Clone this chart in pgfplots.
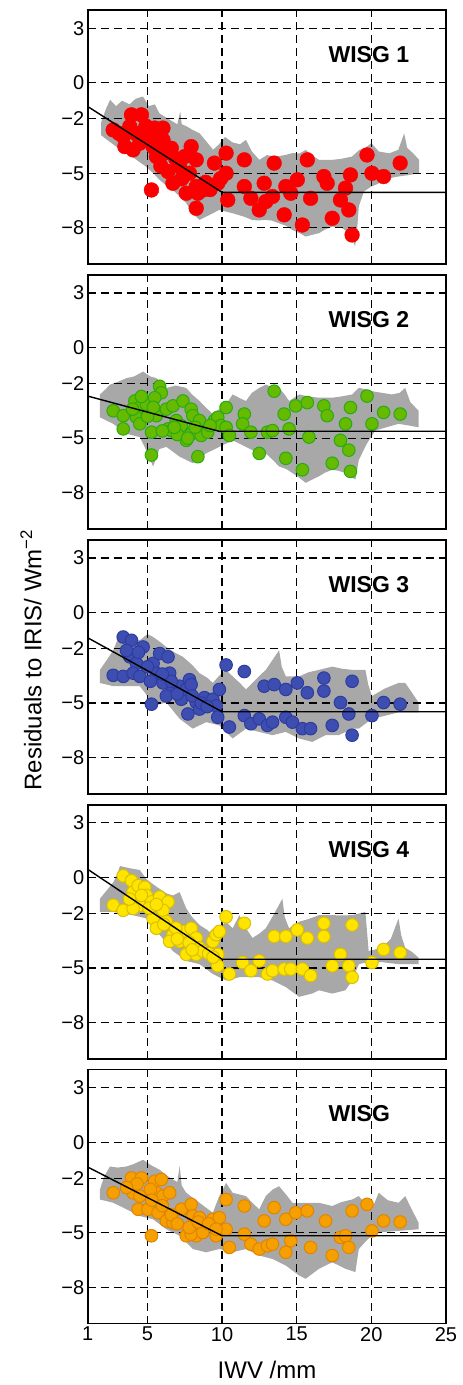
\documentclass[border=0pt]{standalone}
\usepackage{fontspec}
\setmainfont{Liberation Sans}
\usepackage{pgfplots}
\pgfplotsset{compat=1.18}
\definecolor{cloud}{RGB}{168,168,168}
\definecolor{rfill}{RGB}{250,0,0}
\definecolor{gfill}{RGB}{102,187,0}
\definecolor{gedge}{RGB}{40,170,20}
\definecolor{bfill}{RGB}{62,78,176}
\definecolor{bedge}{RGB}{45,60,160}
\definecolor{yfill}{RGB}{255,228,0}
\definecolor{yedge}{RGB}{218,192,0}
\definecolor{ofill}{RGB}{245,160,0}
\definecolor{oedge}{RGB}{225,132,0}
\tikzset{ttl/.style={anchor=west, font=\bfseries\fontsize{23}{27}\selectfont}}
\pgfplotsset{
  panel/.style={
    set layers,
    scale only axis, width=358.3pt, height=254pt,
    xmin=1, xmax=25, ymin=-10, ymax=4,
    xtick={1,5,10,15,20,25}, ytick={-8,-5,-2,0,3},
    yticklabels={−8,−5,−2,0,3},
    xticklabels={},
    major tick length=0pt,
    grid=major,
    major grid style={black, line width=1.2pt, dash pattern=on 8pt off 5pt},
    axis line style={line width=1.8pt},
    tick label style={font=\fontsize{20}{24}\selectfont},
    anchor=south west,
  },
  cloudstyle/.style={fill=cloud, draw=none, on layer=axis background},
  fitline/.style={black, line width=1.4pt, no marks, on layer=axis foreground},
}
\begin{document}
\begin{tikzpicture}
\path (0pt,0pt) rectangle (463pt,1385pt);

% ---------------- WISG 1
\begin{axis}[panel, at={(87.7pt,1121pt)}]
\addplot[cloudstyle] coordinates {
(1.9,-2.2) (2.2,-1.5) (2.5,-0.95) (2.9,-1.3) (3.3,-1.0) (3.8,-1.2) (4.2,-0.9) (4.7,-0.77) (5.1,-1.3) (5.5,-1.2) (5.8,-1.7) (6.2,-1.9) (6.6,-2.1) (7.0,-2.3) (7.2,-1.6) (7.3,-2.3) (7.6,-2.4) (8.0,-2.6) (8.5,-2.8) (8.9,-3.2) (9.4,-3.7) (9.8,-3.4) (10.2,-3.0) (10.7,-3.3) (11.2,-3.4) (11.6,-3.16) (12.0,-3.8) (12.5,-4.26) (13.0,-4.0) (13.6,-4.08) (14.2,-4.0) (14.7,-3.89) (15.2,-3.9) (15.6,-3.71) (16.0,-4.0) (16.5,-4.26) (17.4,-4.26) (18.0,-4.2) (18.7,-4.08) (19.2,-3.71) (19.6,-3.6) (20.0,-3.34) (20.5,-3.8) (21.2,-3.9) (21.8,-3.71) (22.2,-2.8) (22.4,-3.6) (22.8,-3.9) (23.2,-4.26)
(23.2,-5.0) (22.5,-5.1) (21.8,-5.18) (21.0,-5.3) (20.4,-5.6) (20.0,-5.73) (19.5,-6.0) (19.16,-6.83) (19.0,-8.6) (18.9,-9.04) (18.7,-8.4) (18.5,-8.3) (18.0,-8.0) (17.4,-7.94) (16.9,-8.1) (16.5,-8.3) (16.0,-8.4) (15.6,-8.49) (15.2,-8.3) (14.7,-8.12) (14.3,-7.9) (13.8,-7.75) (13.3,-7.6) (12.9,-7.57) (12.4,-7.6) (12.0,-7.57) (11.5,-7.4) (11.1,-7.3) (10.7,-7.2) (10.2,-7.1) (9.8,-7.02) (9.4,-7.2) (8.9,-7.4) (8.5,-7.57) (8.0,-7.2) (7.6,-6.65) (7.2,-6.3) (6.7,-5.92) (6.3,-5.7) (5.8,-5.36) (5.4,-5.0) (4.9,-4.63) (4.5,-4.4) (4.0,-4.1) (3.6,-3.9) (3.2,-3.71) (2.7,-3.4) (2.3,-3.16) (1.9,-2.9)
};
\addplot[only marks, mark=*, mark size=7.4pt, mark options={fill=rfill, draw=rfill}] coordinates {
(2.71,-2.61) (3.38,-2.97) (3.93,-1.78) (4.6,-1.78) (3.49,-3.53) (4.04,-3.71) (4.49,-3.34) (3.82,-2.42) (5.49,-2.51) (6.04,-2.51) (5.71,-2.97) (5.38,-3.53) (6.04,-3.16) (5.6,-4.08) (6.6,-3.62) (6.16,-3.89) (5.27,-5.92) (6.38,-4.90) (6.71,-5.55) (7.16,-4.63) (7.49,-4.08) (7.93,-3.53) (8.27,-4.26) (7.82,-5.0) (7.6,-6.10) (8.27,-5.73) (8.38,-6.10) (8.71,-5.92) (8.27,-6.93) (9.49,-4.44) (9.71,-5.55) (10.27,-5.0) (10.27,-3.89) (10.38,-6.47) (11.49,-4.26) (11.49,-5.73) (11.93,-6.38) (12.49,-7.02) (12.82,-5.55) (12.93,-6.56) (13.38,-6.28) (13.49,-4.44) (14.16,-7.29) (14.27,-5.73) (14.6,-6.10) (15.04,-5.36) (15.38,-7.85) (15.71,-4.26) (15.93,-6.38) (16.82,-5.18) (17.04,-5.55) (17.38,-7.48) (17.93,-6.47) (18.27,-5.82) (18.49,-7.02) (18.6,-5.09) (18.71,-8.40) (19.71,-3.99) (20.04,-5.0) (20.82,-5.18) (21.93,-4.44)
(4.2,-2.8) (5.0,-3.0) (6.9,-4.2) (7.3,-5.3) (8.9,-5.5) (9.2,-5.9) (9.9,-5.3) (4.9,-2.4) (3.1,-2.8) (5.9,-4.6)
};
\addplot[fitline] coordinates {(1,-1.32) (10,-6.05) (25,-6.05)};
\node[ttl] at (axis cs:16.9,1.55) {WISG 1};
\end{axis}

% ---------------- WISG 2
\begin{axis}[panel, at={(87.7pt,856.1pt)}]
\addplot[cloudstyle] coordinates {
(1.82,-2.59) (2.2,-2.3) (2.49,-2.05) (3.0,-1.9) (3.6,-1.69) (4.1,-1.6) (4.71,-1.33) (5.2,-1.6) (5.6,-1.69) (6.0,-2.0) (6.27,-2.23) (6.9,-2.1) (7.6,-2.23) (8.0,-2.6) (8.49,-2.95) (8.9,-3.3) (9.38,-3.67) (9.8,-3.4) (10.27,-3.13) (10.71,-2.59) (11.2,-2.8) (11.6,-2.95) (12.0,-2.5) (12.49,-2.23) (12.93,-2.05) (13.4,-2.2) (13.82,-2.23) (14.2,-2.6) (14.49,-2.95) (15.16,-2.59) (15.8,-2.7) (16.49,-2.77) (17.38,-2.77) (18.0,-2.7) (18.71,-2.59) (19.16,-2.23) (19.6,-2.3) (20.04,-2.41) (20.7,-2.5) (21.38,-2.59) (21.9,-2.5) (22.27,-2.23) (22.6,-3.0) (23.16,-3.49)
(23.16,-4.40) (22.5,-4.3) (21.82,-4.21) (21.0,-4.4) (20.27,-4.58) (19.7,-5.3) (19.16,-6.2) (18.93,-7.28) (18.27,-6.92) (17.8,-6.8) (17.38,-6.74) (16.9,-6.9) (16.49,-7.1) (16.0,-7.3) (15.6,-7.46) (15.2,-7.2) (14.71,-6.92) (14.3,-6.7) (13.82,-6.56) (13.4,-6.2) (12.93,-5.84) (12.04,-5.66) (11.4,-5.4) (10.71,-5.12) (9.82,-5.48) (8.93,-5.84) (8.04,-6.38) (7.16,-6.02) (6.27,-5.48) (5.8,-5.6) (5.38,-6.56) (5.0,-5.8) (4.49,-4.94) (3.6,-4.76) (2.71,-4.21) (1.82,-3.85)
};
\addplot[only marks, mark=*, mark size=6.3pt, mark options={fill=gfill, draw=gedge, line width=1pt}] coordinates {
(2.71,-3.49) (3.38,-3.76) (3.38,-4.49) (4.16,-2.95) (4.49,-3.31) (4.27,-3.85) (4.93,-3.13) (4.49,-4.21) (5.27,-4.67) (5.27,-5.93) (5.82,-2.14) (5.93,-2.50) (5.49,-2.77) (5.6,-3.76) (6.27,-3.40) (6.38,-4.49) (6.71,-3.22) (6.6,-4.58) (6.93,-4.03) (7.38,-2.95) (7.27,-4.31) (7.6,-5.12) (7.93,-3.40) (8.04,-3.76) (7.93,-4.76) (8.49,-4.03) (8.38,-6.02) (8.6,-4.85) (9.04,-4.67) (9.49,-4.03) (9.71,-3.85) (9.93,-4.31) (10.27,-3.31) (10.27,-4.40) (10.49,-4.85) (11.49,-3.67) (11.38,-4.21) (11.93,-4.67) (12.49,-5.84) (13.04,-4.67) (13.38,-4.58) (13.49,-2.41) (14.16,-3.67) (14.27,-6.11) (14.49,-4.49) (14.93,-3.22) (15.38,-6.74) (15.71,-3.04) (15.82,-4.94) (16.82,-3.22) (17.04,-3.76) (17.38,-6.38) (17.93,-5.12) (18.27,-4.21) (18.49,-5.66) (18.6,-3.31) (18.6,-6.83) (19.71,-2.68) (20.04,-4.21) (20.82,-3.58) (21.93,-3.67)
(4.0,-3.4) (5.0,-3.8) (6.0,-4.6) (7.0,-4.8) (8.2,-4.4) (9.2,-4.3) (4.6,-2.7) (5.4,-3.3) (6.8,-4.4) (7.7,-5.0)
};
\addplot[fitline] coordinates {(1,-2.68) (9.8,-4.62) (25,-4.62)};
\node[ttl] at (axis cs:16.9,1.55) {WISG 2};
\end{axis}

% ---------------- WISG 3
\begin{axis}[panel, at={(87.7pt,591.2pt)}]
\addplot[cloudstyle] coordinates {
(1.82,-3.17) (2.3,-2.6) (2.71,-2.09) (3.0,-1.5) (3.16,-1.0) (3.8,-1.3) (4.49,-1.54) (5.0,-1.2) (5.38,-1.36) (5.8,-1.6) (6.27,-1.91) (6.8,-2.2) (7.38,-2.45) (8.0,-2.9) (8.49,-3.35) (9.0,-3.6) (9.38,-3.89) (9.8,-3.5) (10.27,-3.17) (10.71,-3.53) (11.2,-3.9) (11.6,-4.25) (12.04,-3.89) (12.5,-3.5) (12.93,-3.17) (13.4,-2.6) (13.82,-2.09) (14.0,-3.0) (14.27,-3.53) (15.16,-3.53) (15.8,-3.3) (16.49,-3.17) (17.38,-2.99) (18.0,-3.1) (18.71,-3.17) (19.6,-3.17) (19.8,-4.0) (20.04,-4.61) (20.9,-4.2) (21.82,-3.89) (22.27,-3.89) (22.7,-4.4) (23.16,-4.97)
(23.16,-5.51) (21.82,-5.51) (20.9,-5.7) (20.04,-5.87) (19.16,-6.41) (18.71,-6.41) (17.82,-6.77) (16.93,-6.77) (16.04,-7.14) (15.16,-6.95) (14.27,-6.59) (13.38,-6.77) (12.49,-6.59) (11.6,-6.41) (10.71,-6.95) (9.82,-6.23) (8.93,-6.05) (8.04,-6.41) (7.16,-5.87) (6.7,-5.4) (6.27,-4.97) (5.38,-5.15) (4.9,-4.5) (4.49,-4.07) (3.6,-4.07) (2.71,-4.07) (1.82,-3.89)
};
\addplot[only marks, mark=*, mark size=6.3pt, mark options={fill=bfill, draw=bedge, line width=1pt}] coordinates {
(2.71,-3.47) (3.38,-3.53) (3.38,-1.36) (3.93,-1.54) (3.82,-2.45) (4.27,-2.81) (4.04,-3.35) (4.71,-1.91) (4.49,-3.53) (5.27,-5.06) (5.38,-2.81) (5.82,-2.27) (6.38,-2.45) (5.6,-3.35) (6.04,-3.89) (6.49,-3.35) (6.71,-4.25) (6.27,-4.61) (7.16,-4.07) (7.27,-4.79) (7.6,-4.25) (7.82,-3.71) (7.93,-3.98) (7.71,-5.60) (8.27,-4.97) (8.49,-5.33) (8.82,-4.70) (9.38,-4.79) (9.6,-5.15) (9.82,-4.25) (9.71,-5.78) (10.27,-2.90) (10.49,-6.32) (11.49,-3.26) (11.49,-5.69) (11.93,-6.14) (12.49,-5.87) (12.82,-4.07) (13.04,-6.23) (13.38,-6.05) (13.49,-3.98) (14.27,-4.25) (14.27,-5.78) (14.71,-6.05) (15.04,-3.89) (15.38,-6.41) (15.71,-4.43) (15.93,-6.41) (16.82,-3.62) (16.82,-4.34) (17.38,-6.23) (17.93,-4.97) (18.49,-5.60) (18.71,-3.80) (18.71,-6.77) (20.04,-5.69) (20.82,-4.97) (21.93,-5.06)
(4.4,-2.2) (5.0,-3.0) (5.2,-3.8) (6.6,-3.8) (7.0,-4.5) (8.0,-4.6) (8.6,-5.0) (9.0,-5.2) (6.0,-3.4) (3.6,-2.1)
};
\addplot[fitline] coordinates {(1,-1.4) (10,-5.48) (25,-5.48)};
\node[ttl] at (axis cs:16.9,1.55) {WISG 3};
\end{axis}

% ---------------- WISG 4
\begin{axis}[panel, at={(87.7pt,326.3pt)}]
\addplot[cloudstyle] coordinates {
(1.82,-1.18) (2.3,-0.7) (2.71,-0.28) (3.0,0.2) (3.16,0.62) (3.8,0.5) (4.49,0.4) (4.93,-0.1) (5.4,-0.4) (5.82,-0.64) (6.3,-0.9) (6.71,-1.0) (7.16,-0.82) (7.6,-1.72) (8.0,-2.2) (8.49,-2.63) (9.0,-2.9) (9.38,-3.17) (9.8,-2.8) (10.27,-2.45) (10.71,-2.81) (11.16,-2.09) (11.6,-2.8) (12.04,-3.35) (12.5,-3.1) (12.93,-2.81) (13.5,-2.0) (14.04,-1.18) (14.2,-2.2) (14.49,-2.81) (15.16,-2.45) (15.8,-2.3) (16.49,-2.09) (17.38,-2.09) (18.0,-2.1) (18.71,-2.09) (19.6,-1.91) (19.82,-4.07) (20.71,-3.89) (21.3,-3.4) (21.82,-2.27) (22.0,-3.2) (22.27,-3.89) (22.7,-4.1) (23.16,-4.43)
(23.16,-4.79) (21.82,-4.79) (20.04,-4.61) (19.16,-4.79) (18.71,-5.69) (18.27,-6.23) (17.38,-6.41) (16.49,-6.23) (16.04,-6.41) (15.16,-6.59) (14.27,-6.05) (13.38,-5.69) (12.49,-5.51) (11.16,-5.51) (10.27,-5.69) (9.38,-5.33) (8.49,-4.79) (7.6,-4.61) (6.71,-4.07) (5.82,-3.17) (4.93,-2.27) (4.04,-2.09) (2.71,-1.91) (1.82,-1.91)
};
\addplot[only marks, mark=*, mark size=6.3pt, mark options={fill=yfill, draw=yedge, line width=1pt}] coordinates {
(2.71,-1.54) (3.38,0.08) (3.93,-0.19) (3.38,-1.82) (4.04,-0.82) (4.38,-0.46) (4.82,-0.55) (4.49,-1.54) (4.04,-1.72) (4.93,-1.0) (5.27,-1.36) (5.82,-1.09) (6.38,-1.36) (5.38,-2.27) (5.6,-2.81) (6.04,-1.82) (6.27,-2.45) (6.71,-3.17) (6.49,-3.53) (7.16,-3.53) (7.38,-2.99) (7.6,-4.25) (7.93,-2.81) (8.27,-3.35) (8.49,-3.89) (8.27,-4.25) (8.71,-4.07) (9.38,-3.53) (9.6,-3.17) (9.82,-2.99) (9.71,-4.25) (9.71,-4.88) (10.27,-2.18) (10.49,-5.33) (11.49,-2.54) (11.38,-4.70) (11.93,-5.15) (12.49,-4.61) (13.04,-5.33) (13.38,-5.15) (13.49,-3.26) (14.16,-5.06) (14.27,-3.26) (14.6,-5.06) (15.04,-2.90) (15.38,-5.06) (15.71,-3.35) (15.93,-5.42) (16.82,-2.54) (16.82,-3.26) (17.38,-4.88) (17.93,-4.25) (18.49,-4.88) (18.71,-2.63) (18.71,-5.51) (20.04,-4.70) (20.82,-3.98) (21.93,-4.16)
(4.6,-1.0) (5.1,-1.7) (5.6,-1.5) (6.1,-2.6) (6.9,-2.8) (7.0,-3.4) (7.8,-3.6) (8.0,-4.0) (9.1,-4.2) (9.4,-4.4) (3.8,-1.2)
};
\addplot[fitline] coordinates {(1,0.44) (10,-4.52) (25,-4.52)};
\node[ttl] at (axis cs:16.9,1.55) {WISG 4};
\end{axis}

% ---------------- WISG
\begin{axis}[panel, at={(87.7pt,61.4pt)}, xticklabels={1,5,10,15,20,25}]
\addplot[cloudstyle] coordinates {
(1.82,-2.61) (2.1,-1.9) (2.49,-1.34) (3.0,-1.4) (3.6,-1.34) (4.1,-1.2) (4.71,-0.97) (5.3,-1.3) (5.82,-1.52) (6.4,-1.9) (7.0,-2.2) (7.16,-1.3) (7.3,-2.4) (7.6,-2.79) (8.49,-3.34) (9.38,-3.89) (9.8,-3.0) (10.27,-2.25) (10.71,-2.79) (11.6,-2.97) (12.1,-3.4) (12.49,-3.70) (12.93,-2.97) (13.4,-2.6) (13.82,-2.43) (14.3,-2.9) (14.71,-3.34) (15.6,-3.34) (16.49,-3.34) (17.38,-3.52) (18.0,-3.3) (18.71,-3.16) (19.16,-2.97) (19.6,-3.4) (20.04,-3.70) (20.49,-2.79) (21.1,-3.2) (21.82,-3.34) (22.27,-2.97) (22.7,-3.7) (23.16,-4.43)
(23.16,-4.80) (21.82,-4.89) (20.27,-4.98) (19.7,-5.4) (19.16,-5.89) (18.93,-7.16) (18.27,-6.98) (17.38,-6.62) (16.49,-6.98) (15.6,-7.53) (15.16,-7.35) (14.27,-6.80) (13.38,-6.44) (12.49,-6.25) (11.6,-5.89) (10.71,-6.07) (9.82,-5.89) (8.93,-6.07) (8.04,-5.89) (7.16,-5.16) (6.27,-4.80) (5.38,-4.25) (4.49,-4.07) (3.6,-3.70) (2.71,-3.34) (1.82,-3.16)
};
\addplot[only marks, mark=*, mark size=6.3pt, mark options={fill=ofill, draw=oedge, line width=1pt}] coordinates {
(2.71,-2.79) (3.93,-1.97) (4.6,-1.97) (4.04,-2.79) (4.49,-2.97) (4.38,-3.70) (5.04,-3.70) (5.49,-2.15) (5.93,-2.06) (5.6,-2.79) (6.04,-2.97) (6.49,-2.79) (5.71,-3.89) (6.27,-4.34) (6.71,-4.43) (7.27,-3.70) (5.27,-5.16) (7.6,-5.16) (7.93,-3.43) (8.04,-4.07) (8.49,-4.16) (8.27,-5.16) (7.93,-5.07) (8.71,-4.98) (9.38,-4.25) (9.82,-4.16) (9.6,-5.16) (10.27,-4.80) (10.27,-3.16) (10.49,-5.80) (11.49,-5.07) (11.49,-3.52) (11.93,-5.62) (12.49,-5.89) (12.82,-4.34) (13.04,-5.71) (13.38,-5.62) (13.49,-3.61) (14.27,-4.25) (14.27,-6.07) (14.6,-5.43) (14.93,-3.89) (15.71,-3.79) (15.93,-5.80) (16.93,-4.34) (17.38,-6.25) (17.93,-5.25) (18.27,-5.16) (18.49,-5.80) (18.71,-3.79) (19.71,-3.43) (20.04,-4.89) (20.82,-4.34) (21.93,-4.40)
(4.3,-2.3) (5.2,-2.6) (5.3,-3.2) (6.0,-3.5) (6.6,-4.0) (7.0,-4.5) (7.8,-4.7) (8.4,-4.4) (9.1,-4.5) (9.6,-4.8) (3.6,-2.5)
};
\addplot[fitline] coordinates {(1,-1.37) (10,-5.16) (25,-5.16)};
\node[ttl] at (axis cs:16.9,1.55) {WISG};
\end{axis}

\node[rotate=90, font=\fontsize{24}{28}\selectfont] at (31pt,725pt) {Residuals to IRIS/ Wm\textsuperscript{−2}};
\node[anchor=base, font=\fontsize{24}{28}\selectfont] at (267pt,6pt) {IWV /mm};
\end{tikzpicture}
\end{document}
